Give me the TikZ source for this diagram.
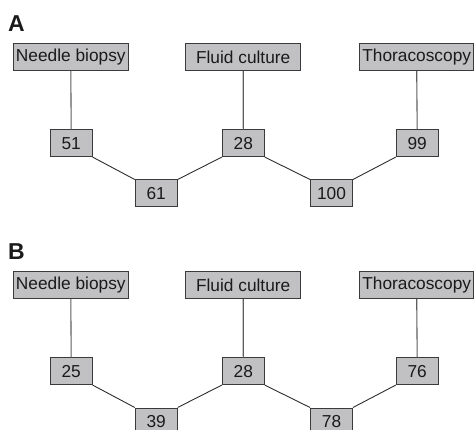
\documentclass[tikz,border=0pt]{standalone}
\usepackage{fontspec}
\setmainfont{Liberation Sans}
\begin{document}
\begin{tikzpicture}[x=1pt,y=-1pt,
  bigbox/.style={draw=boxline,fill=boxfill,line width=0.9pt,minimum width=115pt,minimum height=27pt,inner sep=0pt,text=textc,font=\fontsize{17.3}{19}\selectfont},
  numbox/.style={draw=boxline,fill=boxfill,line width=0.9pt,minimum width=42pt,minimum height=26.7pt,inner sep=0pt,text=textc,font=\fontsize{17.3}{19}\selectfont},
  vline/.style={draw=vcol,line width=1.1pt},
  dline/.style={draw=dcol,line width=0.9pt},
  panel/.style={font=\fontsize{23}{25}\selectfont\bfseries,text=textc,inner sep=0pt,anchor=base west}]
\definecolor{boxfill}{HTML}{C1C1C3}
\definecolor{boxline}{HTML}{3A3A3A}
\definecolor{textc}{HTML}{1A1A1A}
\definecolor{vcol}{HTML}{5E5E5E}
\definecolor{dcol}{HTML}{2E2E2E}
\useasboundingbox (0,0) rectangle (474,430);
\foreach \p/\oy/\a/\b/\c/\d/\e in {A/0/51/61/28/100/99, B/228/25/39/28/78/76}{
  \node[panel] (lab\p) at (8,31.5+\oy) {\p};
  \node[bigbox] (nb\p) at (70.8,57+\oy) {Needle biopsy};
  \node[bigbox] (fc\p) at (243.2,57+\oy) {Fluid culture};
  \node[bigbox,minimum width=114pt] (th\p) at (416.7,57+\oy) {Thoracoscopy};
  \node[numbox] (n1\p) at (71.2,143.3+\oy) {\a};
  \node[numbox] (n2\p) at (156.2,193.3+\oy) {\b};
  \node[numbox] (n3\p) at (243.3,143.3+\oy) {\c};
  \node[numbox] (n4\p) at (331.5,193.3+\oy) {\d};
  \node[numbox] (n5\p) at (417.2,143.3+\oy) {\e};
  \draw[vline] (nb\p.south) -- (n1\p.north);
  \draw[vline] (fc\p.south) -- (n3\p.north);
  \draw[vline] (th\p.south) -- (n5\p.north);
  \draw[dline] (n1\p.south east) -- (n2\p.north west);
  \draw[dline] (n2\p.north east) -- (n3\p.south west);
  \draw[dline] (n3\p.south east) -- (n4\p.north west);
  \draw[dline] (n4\p.north east) -- (n5\p.south west);
}
\end{tikzpicture}
\end{document}
